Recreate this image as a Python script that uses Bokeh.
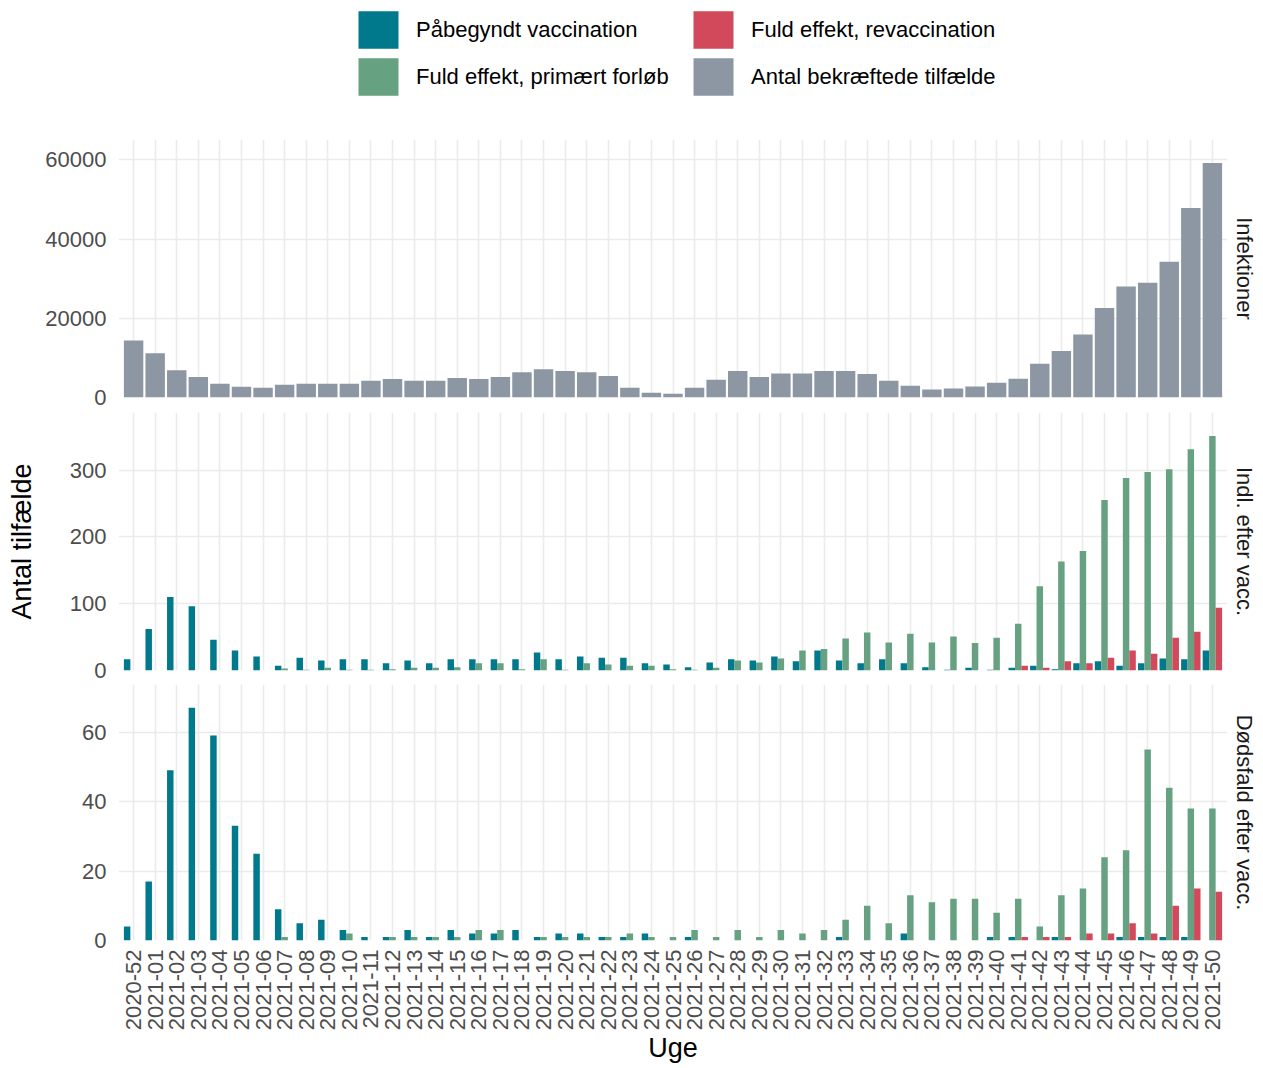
import math
from bokeh.plotting import figure
from bokeh.models import (FactorRange, Range1d, ColumnDataSource, Legend, LegendItem, Title,
                          SingleIntervalTicker, NumeralTickFormatter, CategoricalTicker, Grid)
from bokeh.layouts import column
from bokeh.transform import dodge
from bokeh.embed import file_html
from bokeh.resources import INLINE

# ---------------- data ----------------
weeks = ["2020-52", "2021-01", "2021-02", "2021-03", "2021-04", "2021-05", "2021-06", "2021-07",
         "2021-08", "2021-09", "2021-10", "2021-11", "2021-12", "2021-13", "2021-14", "2021-15",
         "2021-16", "2021-17", "2021-18", "2021-19", "2021-20", "2021-21", "2021-22", "2021-23",
         "2021-24", "2021-25", "2021-26", "2021-27", "2021-28", "2021-29", "2021-30", "2021-31",
         "2021-32", "2021-33", "2021-34", "2021-35", "2021-36", "2021-37", "2021-38", "2021-39",
         "2021-40", "2021-41", "2021-42", "2021-43", "2021-44", "2021-45", "2021-46", "2021-47",
         "2021-48", "2021-49", "2021-50"]

infections = [14400, 11200, 6900, 5200, 3500, 2700, 2450, 3200, 3450, 3450, 3450, 4200, 4650,
              4200, 4200, 4900, 4650, 5150, 6400, 7100, 6700, 6400, 5400, 2450, 1200, 950,
              2450, 4500, 6700, 5150, 6050, 6050, 6700, 6700, 5900, 4200, 2950, 2000, 2300,
              2800, 3700, 4750, 8500, 11750, 15900, 22600, 28000, 28950, 34250, 47800, 59200]

adm_started = [17, 62, 110, 96, 46, 30, 21, 7, 19, 15, 17, 17, 11, 15, 11, 17, 17, 17, 17, 27,
               17, 21, 19, 19, 11, 9, 5, 12, 17, 15, 21, 14, 30, 15, 11, 17, 11, 5, 1, 4, 1, 4,
               7, 2, 11, 14, 7, 11, 18, 17, 30]
adm_primary = [0, 0, 0, 0, 0, 0, 0, 3, 1, 4, 1, 1, 2, 4, 4, 5, 11, 11, 2, 17, 1, 11, 9, 7, 7,
               2, 1, 4, 15, 12, 18, 30, 32, 48, 57, 42, 55, 42, 51, 41, 49, 70, 126, 163, 179,
               255, 288, 297, 301, 331, 351]
adm_booster = [0, 0, 0, 0, 0, 0, 0, 0, 0, 0, 0, 0, 0, 0, 0, 0, 0, 0, 0, 0, 0, 0, 0, 0, 0, 0,
               0, 0, 0, 0, 0, 0, 0, 0, 0, 0, 0, 0, 0, 0, 0, 7, 4, 14, 11, 19, 30, 25, 49, 58, 94]

death_started = [4, 17, 49, 67, 59, 33, 25, 9, 5, 6, 3, 1, 1, 3, 1, 3, 2, 2, 3, 1, 2, 2, 1, 1, 2,
                 0, 1, 0, 0, 0, 0, 0, 0, 1, 0, 0, 2, 0, 0, 0, 1, 1, 0, 1, 0, 0, 1, 1, 1, 1, 0]
death_primary = [0, 0, 0, 0, 0, 0, 0, 1, 0, 0, 2, 0, 1, 1, 1, 1, 3, 3, 0, 1, 1, 1, 1, 2, 1,
                 1, 3, 1, 3, 1, 3, 2, 3, 6, 10, 5, 13, 11, 12, 12, 8, 12, 4, 13, 15, 24, 26, 55,
                 44, 38, 38]
death_booster = [0, 0, 0, 0, 0, 0, 0, 0, 0, 0, 0, 0, 0, 0, 0, 0, 0, 0, 0, 0, 0, 0, 0, 0, 0, 0,
                 0, 0, 0, 0, 0, 0, 0, 0, 0, 0, 0, 0, 0, 0, 0, 1, 1, 1, 2, 2, 5, 2, 10, 15, 14]

series_labels = ["Påbegyndt vaccination", "Fuld effekt, primært forløb",
                 "Fuld effekt, revaccination", "Antal bekræftede tilfælde"]
strip_labels = ["Infektioner", "Indl. efter vacc.", "Dødsfald efter vacc."]
y_title = "Antal tilfælde"
x_title = "Uge"

TEAL = "#00798C"
GREEN = "#66A182"
RED = "#D1495B"
GREY = "#8D96A3"
FONT = "Liberation Sans"
W = 1262
LEFT = 118

src = ColumnDataSource(dict(week=weeks, infections=infections,
                            adm_started=adm_started, adm_primary=adm_primary, adm_booster=adm_booster,
                            death_started=death_started, death_primary=death_primary,
                            death_booster=death_booster))

xr = FactorRange(factors=weeks, range_padding=0.2, range_padding_units="absolute")


def style_grid(p):
    p.center = [r for r in p.center if not isinstance(r, Grid)]
    gx = Grid(dimension=0, ticker=CategoricalTicker(), grid_line_color="#EBEBEB", grid_line_width=1.6)
    p.add_layout(gx, "center")
    gy = Grid(dimension=1, axis=p.yaxis[0], grid_line_color="#EBEBEB", grid_line_width=1.6)
    p.add_layout(gy, "center")


def panel(height, ymax, interval, strip, top_b, bottom_b, show_x=False, ylabel=None):
    p = figure(width=W, height=height, x_range=xr, y_range=Range1d(0, ymax * 1.1),
               output_backend="svg", toolbar_location=None,
               x_axis_location="below" if show_x else None,
               min_border_left=LEFT, min_border_right=0,
               min_border_top=top_b, min_border_bottom=bottom_b)
    p.outline_line_color = None
    ax = p.yaxis[0]
    ax.ticker = SingleIntervalTicker(interval=interval, num_minor_ticks=0)
    ax.formatter = NumeralTickFormatter(format="0")
    ax.major_tick_line_color = None
    ax.minor_tick_line_color = None
    ax.major_tick_out = 0
    ax.major_tick_in = 0
    ax.axis_line_color = None
    ax.major_label_text_font = FONT
    ax.major_label_text_font_size = "22px"
    ax.major_label_text_color = "#4D4D4D"
    ax.major_label_standoff = 12
    if ylabel:
        ax.axis_label = ylabel
        ax.axis_label_text_font = FONT
        ax.axis_label_text_font_size = "27px"
        ax.axis_label_text_font_style = "normal"
        ax.axis_label_text_color = "black"
        ax.axis_label_standoff = 30
    style_grid(p)
    p.add_layout(Title(text=strip, align="center", text_font=FONT, text_font_size="22px",
                       text_font_style="normal", text_color="#1A1A1A", standoff=8), "right")
    return p


def dodged(p, cols):
    offsets = [-0.3, 0.0, 0.3]
    colors = [TEAL, GREEN, RED]
    for c, off, col in zip(cols, offsets, colors):
        p.vbar(x=dodge("week", off, range=xr), top=c, width=0.3, source=src,
               fill_color=col, line_color=None)


# ---------------- legend figure ----------------
lg = figure(width=W, height=131, x_range=xr, y_range=Range1d(0, 1), output_backend="svg",
            toolbar_location=None, x_axis_location=None, y_axis_location=None, min_border=0)
lg.outline_line_color = None
lg.center = [r for r in lg.center if not isinstance(r, Grid)]
r_teal = lg.vbar(x="week", top="adm_started", width=0.3, source=src, fill_color=TEAL,
                 line_color=None, visible=False)
r_green = lg.vbar(x="week", top="adm_primary", width=0.3, source=src, fill_color=GREEN,
                  line_color=None, visible=False)
r_red = lg.vbar(x="week", top="adm_booster", width=0.3, source=src, fill_color=RED,
                line_color=None, visible=False)
r_grey = lg.vbar(x="week", top="infections", width=0.9, source=src, fill_color=GREY,
                 line_color=None, visible=False)


def make_legend(items, x):
    return Legend(items=items, location=(x, 31), orientation="vertical",
                  glyph_width=50, glyph_height=47, label_standoff=13, spacing=0,
                  padding=0, margin=0, border_line_color=None, background_fill_alpha=0,
                  inactive_fill_alpha=0,
                  label_text_font=FONT, label_text_font_size="22px", label_text_color="black")


lg.add_layout(make_legend([LegendItem(label=series_labels[0], renderers=[r_teal]),
                           LegendItem(label=series_labels[1], renderers=[r_green])], 235))
lg.add_layout(make_legend([LegendItem(label=series_labels[2], renderers=[r_red]),
                           LegendItem(label=series_labels[3], renderers=[r_grey])], 570))

# ---------------- panels ----------------
p1 = panel(278, max(infections), 20000, strip_labels[0], 8, 12)
p1.vbar(x="week", top="infections", width=0.9, source=src, fill_color=GREY, line_color=None)

p2 = panel(273, max(adm_started + adm_primary + adm_booster), 100, strip_labels[1], 3, 12,
           ylabel=y_title)
dodged(p2, ["adm_started", "adm_primary", "adm_booster"])

p3 = panel(384, max(death_started + death_primary + death_booster), 20, strip_labels[2], 2, 0,
           show_x=True)
dodged(p3, ["death_started", "death_primary", "death_booster"])
xa = p3.xaxis[0]
xa.major_label_orientation = math.pi / 2
xa.major_label_text_font = FONT
xa.major_label_text_font_size = "22px"
xa.major_label_text_color = "#4D4D4D"
xa.major_label_standoff = 9
xa.major_tick_line_color = None
xa.major_tick_out = 0
xa.major_tick_in = 0
xa.axis_line_color = None
xa.axis_label = x_title
xa.axis_label_text_font = FONT
xa.axis_label_text_font_size = "27px"
xa.axis_label_text_font_style = "normal"
xa.axis_label_text_color = "black"
xa.axis_label_standoff = 0

layout = column(lg, p1, p2, p3, spacing=0)

open("out.html", "w").write(file_html(layout, INLINE))
